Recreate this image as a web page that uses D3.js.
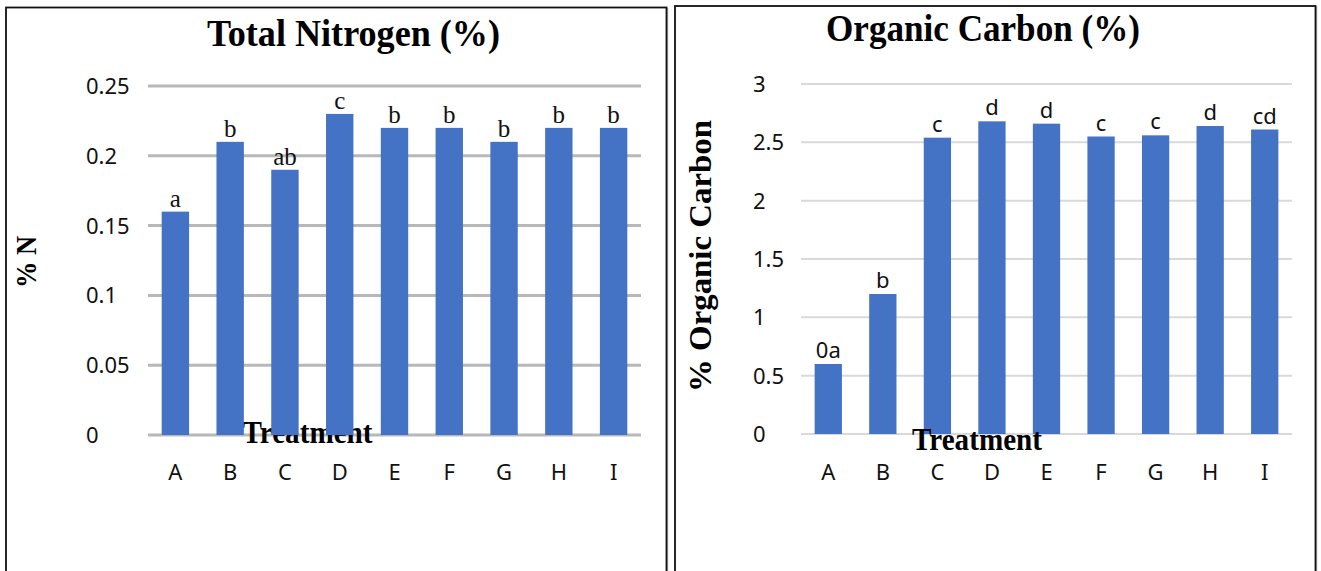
<!DOCTYPE html>
<html><head><meta charset="utf-8">
<script src="https://cdn.jsdelivr.net/npm/d3@7"></script>
<style>body{margin:0;background:#fff}svg{display:block}</style>
</head><body>
<svg id="c" width="1321" height="571"></svg>
<script>
const categories = ["A","B","C","D","E","F","G","H","I"];
const nitrogen = [0.16,0.21,0.19,0.23,0.22,0.22,0.21,0.22,0.22];
const nitrogenLetters = ["a","b","ab","c","b","b","b","b","b"];
const nitrogenTicks = [0,0.05,0.1,0.15,0.2,0.25];
const carbon = [0.6,1.2,2.54,2.68,2.66,2.55,2.56,2.64,2.61];
const carbonLetters = ["0a","b","c","d","d","c","c","d","cd"];
const carbonTicks = [0,0.5,1,1.5,2,2.5,3];

const svg = d3.select("#c");
const serif = "'Liberation Serif','Times New Roman',serif";
const sans = "'Noto Sans','Open Sans',sans-serif";
const barColor = "#4472c4";

function panel(o){
  const g = svg.append("g");
  g.append("rect").attr("x",o.box[0]+1).attr("y",o.box[1]+1).attr("width",o.box[2]-o.box[0]).attr("height",o.box[3]-o.box[1])
    .attr("fill","none").attr("stroke","#bbb").attr("stroke-width",1.5);
  g.append("rect").attr("x",o.box[0]).attr("y",o.box[1]).attr("width",o.box[2]-o.box[0]).attr("height",o.box[3]-o.box[1])
    .attr("fill","#fff").attr("stroke","#111").attr("stroke-width",1.8);
  const x = d3.scaleBand().domain(categories).range(o.xr).paddingInner(0.5).paddingOuter(0.25);
  const y = d3.scaleLinear().domain(o.dom).range(o.yr);
  g.append("g").selectAll("line").data(o.ticks).join("line")
    .attr("x1",o.xr[0]).attr("x2",o.xr[1]).attr("y1",d=>y(d)).attr("y2",d=>y(d))
    .attr("stroke",o.gridColor).attr("stroke-width",o.gridW);
  const fmt = d3.format("");
  g.append("g").selectAll("text").data(o.ticks).join("text")
    .attr("x",o.tickX).attr("y",d=>y(d)).attr("dy","0.36em")
    .attr("font-family",sans).attr("font-size",o.tickFs).attr("fill","#111")
    .text(d=>fmt(d));
  g.append("g").selectAll("text").data(categories).join("text")
    .attr("x",d=>x(d)+x.bandwidth()/2).attr("y",o.xLabY).attr("text-anchor","middle")
    .attr("font-family",sans).attr("font-size",o.tickFs).attr("fill","#111").text(d=>d);
  const xt = ()=>g.append("text").attr("x",o.xtitle[0]).attr("y",o.xtitle[1]).attr("text-anchor","middle")
    .attr("font-family",serif).attr("font-weight","bold").attr("font-size",o.xtitleFs)
    .attr("textLength",o.xtitleLen).attr("lengthAdjust","spacingAndGlyphs").text("Treatment");
  if(!o.xtitleFront) xt();
  g.append("g").selectAll("rect").data(o.values).join("rect")
    .attr("x",(d,i)=>x(categories[i])).attr("width",x.bandwidth())
    .attr("y",d=>y(d)).attr("height",d=>y(0)-y(d)).attr("fill",barColor);
  if(o.xtitleFront) xt();
  g.append("g").selectAll("text").data(o.values).join("text")
    .attr("x",(d,i)=>x(categories[i])+x.bandwidth()/2).attr("y",d=>y(d)-o.letterGap)
    .attr("text-anchor","middle").attr("font-family",o.letterFont).attr("font-size",o.letterFs).attr("fill","#111")
    .text((d,i)=>o.letters[i]);
  g.append("text").attr("x",o.title[0]).attr("y",o.title[1]).attr("text-anchor","middle")
    .attr("font-family",serif).attr("font-weight","bold").attr("font-size",o.titleFs)
    .attr("textLength",o.titleLen).attr("lengthAdjust","spacingAndGlyphs").text(o.titleText);
  g.append("text").attr("transform",`translate(${o.ytitle[0]},${o.ytitle[1]}) rotate(-90)`).attr("text-anchor","middle")
    .attr("font-family",serif).attr("font-weight","bold").attr("font-size",o.ytitleFs)
    .attr("textLength",o.ytitleLen).attr("lengthAdjust","spacingAndGlyphs").text(o.ytitleText);
}

panel({box:[6,7.5,666.5,600], xr:[148,641], yr:[435,86], dom:[0,0.25], ticks:nitrogenTicks,
  values:nitrogen, letters:nitrogenLetters, gridColor:"#b8b8b8", gridW:3,
  tickX:86, tickFs:22, xLabY:480, xtitle:[307.5,443], xtitleFs:31, xtitleLen:130, xtitleFront:false,
  letterFont:serif, letterFs:25, letterGap:5,
  title:[353.5,46], titleFs:37, titleLen:293, titleText:"Total Nitrogen (%)",
  ytitle:[36,262], ytitleFs:30, ytitleLen:52, ytitleText:"% N"});

panel({box:[675,6,1315.5,600], xr:[801,1292], yr:[434,84], dom:[0,3], ticks:carbonTicks,
  values:carbon, letters:carbonLetters, gridColor:"#d9d9d9", gridW:2,
  tickX:753, tickFs:22, xLabY:480, xtitle:[977,450], xtitleFs:32, xtitleLen:130, xtitleFront:true,
  letterFont:sans, letterFs:22, letterGap:6,
  title:[983,41], titleFs:37, titleLen:314, titleText:"Organic Carbon (%)",
  ytitle:[711,256], ytitleFs:32, ytitleLen:272, ytitleText:"% Organic Carbon"});
</script>
</body></html>
